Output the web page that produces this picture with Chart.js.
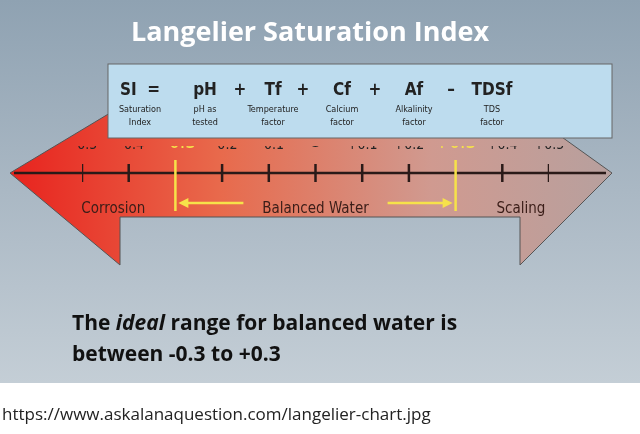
<!DOCTYPE html>
<html><head><meta charset="utf-8">
<script src="https://cdn.jsdelivr.net/npm/chart.js@4"></script>
<style>html,body{margin:0;padding:0;background:#fff}canvas{display:block}</style>
</head><body>
<div style="width:640px;height:434px"><canvas id="c"></canvas></div>
<script>
const tickValues = [-0.5,-0.4,-0.3,-0.2,-0.1,0,0.1,0.2,0.3,0.4,0.5];
const tickLabels = ["−0.5","−0.4","−0.3","−0.2","−0.1","0","+0.1","+0.2","+0.3","+0.4","+0.5"];
const balancedRange = [-0.3, 0.3];
const NARROW = "'Liberation Sans Narrow','DejaVu Sans Condensed',sans-serif";

const bg = {
  id:'bg',
  beforeDraw(chart){
    const ctx = chart.ctx, W = chart.width;
    const x = chart.scales.x, y0 = chart.scales.y.getPixelForValue(0);
    ctx.save();
    ctx.fillStyle='#fff'; ctx.fillRect(0,0,W,434);
    let g = ctx.createLinearGradient(0,0,0,383);
    g.addColorStop(0,'#8fa2b2'); g.addColorStop(0.5,'#aab8c4'); g.addColorStop(1,'#c4ced6');
    ctx.fillStyle=g; ctx.fillRect(0,0,W,383);
    // arrow
    const L=10,R=612,hl=x.getPixelForValue(-0.5)+38,hr=x.getPixelForValue(0.5)-29;
    const ht=66, hb=92, st=42, sb=44;
    ctx.beginPath();
    ctx.moveTo(L,y0); ctx.lineTo(hl,y0-ht); ctx.lineTo(hl,y0-st); ctx.lineTo(hr,y0-st);
    ctx.lineTo(hr,y0-ht); ctx.lineTo(R,y0); ctx.lineTo(hr,y0+hb); ctx.lineTo(hr,y0+sb);
    ctx.lineTo(hl,y0+sb); ctx.lineTo(hl,y0+hb); ctx.closePath();
    g = ctx.createLinearGradient(L,0,R,0);
    g.addColorStop(0,'#e8231e'); g.addColorStop(0.35,'#e86a4c'); g.addColorStop(0.7,'#d09a90'); g.addColorStop(1,'#b7a09e');
    ctx.fillStyle=g; ctx.fill();
    ctx.strokeStyle='#555'; ctx.lineWidth=1; ctx.stroke();
    // panel
    ctx.fillStyle='#bddcee'; ctx.fillRect(108,64,504,74);
    ctx.strokeStyle='#666'; ctx.strokeRect(108,64,504,74);
    ctx.fillStyle='#222'; ctx.textAlign='center'; ctx.textBaseline='alphabetic';
    const terms=[["SI  =",140,"Saturation","Index"],["pH",205,"pH as","tested"],["+",240],["Tf",273,"Temperature","factor"],["+",303],["Cf",342,"Calcium","factor"],["+",375],["Af",414,"Alkalinity","factor"],["–",451],["TDSf",492,"TDS","factor"]];
    for(const t of terms){
      ctx.font="bold 17px "+NARROW; ctx.fillText(t[0],t[1],95);
      if(t[2]){ctx.font="9px "+NARROW; ctx.fillText(t[2],t[1],112); ctx.fillText(t[3],t[1],125);}
    }
    // title
    ctx.fillStyle='#fff'; ctx.font="bold 27px 'Open Sans',sans-serif";
    ctx.fillText('Langelier Saturation Index',310,41);
    // bottom text
    ctx.fillStyle='#111'; ctx.textAlign='left'; ctx.font="bold 21px 'Open Sans',sans-serif";
    const s1='The ', s2='ideal', s3=' range for balanced water is';
    let px=72; ctx.fillText(s1,px,330); px+=ctx.measureText(s1).width;
    ctx.font="bold italic 21px 'Open Sans',sans-serif"; ctx.fillText(s2,px,330); px+=ctx.measureText(s2).width;
    ctx.font="bold 21px 'Open Sans',sans-serif"; ctx.fillText(s3,px,330);
    ctx.fillText('between -0.3 to +0.3',72,361);
    ctx.font="17px 'Open Sans',sans-serif"; ctx.fillStyle='#222';
    ctx.fillText('https://www.askalanaquestion.com/langelier-chart.jpg',2,420);
    // axis line
    ctx.strokeStyle='#2a1a18'; ctx.lineWidth=2.5;
    ctx.beginPath(); ctx.moveTo(14,y0); ctx.lineTo(606,y0); ctx.stroke();
    // region labels
    ctx.fillStyle='#3a1d18'; ctx.font="15px "+NARROW; ctx.textAlign='center';
    ctx.fillText('Corrosion',x.getPixelForValue(-0.45)+8,213);
    ctx.fillText('Balanced Water',x.getPixelForValue(0),213);
    ctx.fillText('Scaling',x.getPixelForValue(0.44),213);
    // yellow arrows
    const a=x.getPixelForValue(balancedRange[0]), b=x.getPixelForValue(balancedRange[1]);
    ctx.strokeStyle='#f6e24a'; ctx.fillStyle='#f6e24a'; ctx.lineWidth=2.5;
    ctx.beginPath(); ctx.moveTo(a,y0-13); ctx.lineTo(a,y0+38); ctx.moveTo(b,y0-13); ctx.lineTo(b,y0+38);
    ctx.moveTo(a+10,y0+30); ctx.lineTo(a+68,y0+30); ctx.moveTo(b-10,y0+30); ctx.lineTo(b-68,y0+30); ctx.stroke();
    ctx.beginPath(); ctx.moveTo(a+3,y0+30); ctx.lineTo(a+13,y0+25); ctx.lineTo(a+13,y0+35); ctx.fill();
    ctx.beginPath(); ctx.moveTo(b-3,y0+30); ctx.lineTo(b-13,y0+25); ctx.lineTo(b-13,y0+35); ctx.fill();
    ctx.restore();
  }
};

new Chart(document.getElementById('c'),{
  type:'scatter',
  data:{datasets:[{
    data:tickValues.filter(v=>!balancedRange.includes(v)).map(v=>({x:v,y:0})),
    pointStyle:'line', rotation:90, radius:10, borderColor:'#2a1a18', borderWidth:2.5, hoverRadius:10
  }]},
  options:{
    responsive:true, maintainAspectRatio:false, animation:false,
    layout:{padding:{left:82,right:91,top:146,bottom:252}},
    plugins:{legend:{display:false},tooltip:{enabled:false}},
    scales:{
      x:{type:'linear',position:'top',min:-0.5,max:0.5,
        afterBuildTicks:s=>{s.ticks=tickValues.map(v=>({value:v}));},
        grid:{display:false}, border:{display:false},
        ticks:{padding:2,autoSkip:false,maxRotation:0,
          callback:(v,i)=>tickLabels[i],
          color:c=>balancedRange.includes(tickValues[c.index])?'#f6e24a':'#222',
          font:c=>{const v=tickValues[c.index]; return {family:NARROW,size:v===0?22:(balancedRange.includes(v)?19:14),weight:v===0?'bold':'normal'};}}},
      y:{display:false,min:-1,max:1}
    }
  },
  plugins:[bg]
});
</script></body></html>
